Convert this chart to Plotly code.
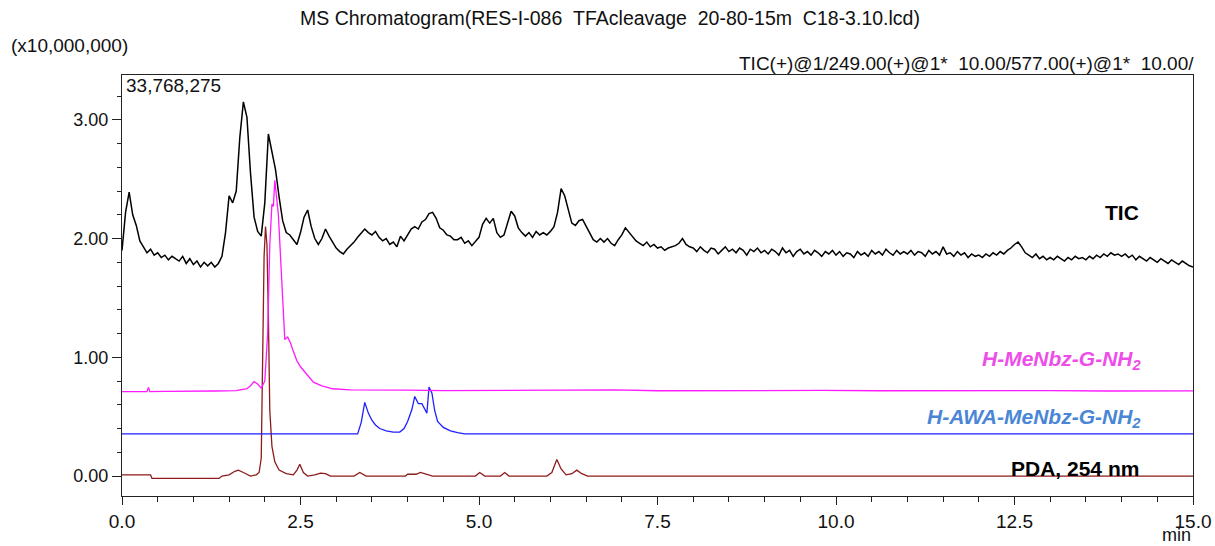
import plotly.graph_objects as go

# ---------------- data (retention time in min, intensity in units of 1e7) ----------------
tic_time = [round(i * 0.05, 2) for i in range(301)]
tic_values = [
    # 0.00 - 0.95
    1.90, 2.22, 2.39, 2.20, 2.11, 1.98, 1.93, 1.88, 1.91, 1.86, 1.88, 1.84, 1.86, 1.82, 1.85, 1.83, 1.81, 1.85, 1.79, 1.83,
    # 1.00 - 1.95
    1.78, 1.81, 1.76, 1.80, 1.77, 1.80, 1.76, 1.79, 1.85, 2.05, 2.36, 2.30, 2.40, 2.85, 3.15, 3.02, 2.55, 2.18, 2.06, 2.02,
    # 2.00 - 2.95
    2.30, 2.88, 2.72, 2.58, 2.35, 2.15, 2.05, 2.03, 1.99, 1.95, 2.05, 2.18, 2.24, 2.10, 2.00, 1.95, 2.00, 2.08, 2.02, 1.97,
    # 3.00 - 3.95
    1.92, 1.89, 1.87, 1.91, 1.94, 1.97, 2.01, 2.05, 2.08, 2.05, 2.03, 2.06, 2.01, 1.98, 2.00, 1.95, 1.97, 1.93, 2.02, 1.98,
    # 4.00 - 4.95
    2.03, 2.08, 2.10, 2.08, 2.14, 2.16, 2.21, 2.22, 2.17, 2.09, 2.07, 2.03, 2.02, 1.99, 1.99, 2.01, 1.96, 1.98, 1.94, 1.98,
    # 5.00 - 5.95
    2.01, 2.12, 2.17, 2.13, 2.17, 2.05, 2.01, 2.03, 2.14, 2.23, 2.19, 2.09, 2.05, 2.02, 2.05, 2.01, 2.06, 2.03, 2.05, 2.03,
    # 6.00 - 6.95
    2.06, 2.10, 2.22, 2.42, 2.36, 2.25, 2.13, 2.11, 2.15, 2.16, 2.10, 2.05, 1.99, 1.97, 2.00, 1.97, 2.00, 1.96, 1.94, 1.99,
    # 7.00 - 7.95
    2.03, 2.09, 2.05, 2.01, 1.98, 1.96, 1.94, 1.97, 1.93, 1.95, 1.92, 1.93, 1.90, 1.92, 1.93, 1.94, 1.96, 2.00, 1.95, 1.93,
    # 8.00 - 8.95
    1.92, 1.89, 1.93, 1.90, 1.88, 1.92, 1.91, 1.87, 1.90, 1.93, 1.89, 1.91, 1.88, 1.92, 1.90, 1.86, 1.91, 1.89, 1.92, 1.88,
    # 9.00 - 9.95
    1.90, 1.87, 1.91, 1.89, 1.86, 1.92, 1.88, 1.90, 1.85, 1.89, 1.91, 1.87, 1.89, 1.86, 1.90, 1.88, 1.85, 1.89, 1.87, 1.90,
    # 10.00 - 10.95
    1.86, 1.89, 1.85, 1.88, 1.87, 1.84, 1.89, 1.86, 1.88, 1.85, 1.90, 1.87, 1.89, 1.86, 1.91, 1.88, 1.86, 1.90, 1.87, 1.89,
    # 11.00 - 11.95
    1.87, 1.90, 1.86, 1.89, 1.88, 1.85, 1.90, 1.87, 1.89, 1.86, 1.93, 1.87, 1.88, 1.85, 1.89, 1.86, 1.88, 1.84, 1.87, 1.85,
    # 12.00 - 12.95
    1.86, 1.84, 1.87, 1.85, 1.88, 1.86, 1.89, 1.87, 1.90, 1.92, 1.95, 1.97, 1.93, 1.88, 1.86, 1.84, 1.87, 1.83, 1.85, 1.82,
    # 13.00 - 13.95
    1.84, 1.82, 1.85, 1.83, 1.81, 1.84, 1.82, 1.85, 1.83, 1.84, 1.82, 1.85, 1.83, 1.86, 1.84, 1.87, 1.85, 1.88, 1.86, 1.87,
    # 14.00 - 14.95
    1.85, 1.87, 1.84, 1.86, 1.82, 1.85, 1.83, 1.81, 1.84, 1.82, 1.80, 1.83, 1.81, 1.79, 1.82, 1.80, 1.78, 1.81, 1.79, 1.77,
    # 15.00
    1.76,
]

menbz_time = [0.00, 0.20, 0.35, 0.37, 0.39, 0.60, 1.00, 1.30, 1.60, 1.75, 1.80, 1.85, 1.90, 1.95, 2.00,
              2.04, 2.07, 2.10, 2.12, 2.14, 2.19, 2.24, 2.28, 2.32, 2.36, 2.40, 2.45, 2.50, 2.59, 2.68,
              2.80, 2.95, 3.20, 3.60, 4.00, 4.50, 5.00, 5.60, 6.20, 6.90, 7.50, 8.20, 9.00, 9.80,
              10.60, 11.40, 12.20, 13.00, 13.80, 14.50, 15.00]
menbz_values = [0.710, 0.712, 0.710, 0.745, 0.711, 0.713, 0.712, 0.716, 0.720, 0.735, 0.760, 0.795, 0.775, 0.740, 0.800,
                1.200, 1.950, 2.290, 2.270, 2.490, 2.200, 1.550, 1.150, 1.170, 1.120, 1.050, 0.970, 0.920, 0.850, 0.790,
                0.760, 0.735, 0.726, 0.722, 0.724, 0.720, 0.722, 0.719, 0.721, 0.725, 0.718, 0.720, 0.717, 0.721,
                0.718, 0.720, 0.717, 0.719, 0.716, 0.718, 0.717]

awa_time = [0.00, 3.30, 3.35, 3.40, 3.45, 3.50, 3.55, 3.61, 3.70, 3.80, 3.89, 3.95, 4.00, 4.06, 4.10,
            4.15, 4.20, 4.25, 4.27, 4.30, 4.34, 4.38, 4.42, 4.50, 4.60, 4.70, 4.80, 15.00]
awa_values = [0.355, 0.355, 0.450, 0.620, 0.530, 0.470, 0.430, 0.400, 0.380, 0.370, 0.370, 0.400, 0.460, 0.560, 0.670,
              0.610, 0.610, 0.550, 0.530, 0.750, 0.700, 0.550, 0.460, 0.410, 0.380, 0.365, 0.355, 0.355]

pda_time = [0.00, 0.40, 0.42, 1.36, 1.40, 1.50, 1.58, 1.63, 1.70, 1.80, 1.88, 1.92, 1.95, 1.97, 1.99,
            2.01, 2.03, 2.05, 2.07, 2.10, 2.14, 2.20, 2.30, 2.40, 2.45, 2.49, 2.54, 2.60, 2.70, 2.78,
            2.85, 2.92, 3.00, 3.25, 3.33, 3.42, 3.50, 3.97, 4.00, 4.12, 4.18, 4.25, 4.35, 4.95, 5.01,
            5.08, 5.30, 5.36, 5.42, 5.95, 6.02, 6.09, 6.15, 6.22, 6.30, 6.37, 6.44, 6.52, 15.00]
pda_values = [0.010, 0.010, -0.020, -0.020, 0.000, 0.010, 0.040, 0.050, 0.030, 0.000, 0.010, 0.030, 0.150, 0.900, 1.850,
              2.100, 1.950, 1.350, 0.550, 0.250, 0.120, 0.050, 0.020, 0.010, 0.050, 0.100, 0.030, 0.000, 0.010, 0.025,
              0.020, 0.000, 0.000, 0.000, 0.030, 0.000, 0.000, 0.000, 0.015, 0.015, 0.030, 0.020, 0.000, 0.000, 0.030,
              0.000, 0.000, 0.030, 0.000, 0.000, 0.030, 0.140, 0.060, 0.010, 0.020, 0.050, 0.020, 0.000, 0.000]

y_max = 3.3768275  # 33,768,275 counts
y_min = -0.168

FONT = "Liberation Sans, Arial, sans-serif"

fig = go.Figure()
fig.add_trace(go.Scatter(x=pda_time, y=pda_values, mode="lines",
                         line=dict(color="#8e1b1b", width=1.3), name="PDA, 254 nm"))
fig.add_trace(go.Scatter(x=awa_time, y=awa_values, mode="lines",
                         line=dict(color="#1f1fff", width=1.3), name="H-AWA-MeNbz-G-NH2"))
fig.add_trace(go.Scatter(x=menbz_time, y=menbz_values, mode="lines",
                         line=dict(color="#ff1aff", width=1.3), name="H-MeNbz-G-NH2"))
fig.add_trace(go.Scatter(x=tic_time, y=tic_values, mode="lines",
                         line=dict(color="#000000", width=1.5), name="TIC"))

# series labels next to their traces
series_labels = [
    ("<b>TIC</b>", 14.27, 2.22, "#000000"),
    ("<b><i>H-MeNbz-G-NH<sub>2</sub></i></b>", 14.30, 0.975, "#ee4ee8"),
    ("<b><i>H-AWA-MeNbz-G-NH<sub>2</sub></i></b>", 14.30, 0.49, "#4a86d6"),
    ("<b>PDA, 254 nm</b>", 14.27, 0.067, "#000000"),
]
for text, x, y, color in series_labels:
    fig.add_annotation(x=x, y=y, xref="x", yref="y", text=text, showarrow=False,
                       xanchor="right", yanchor="middle",
                       font=dict(family=FONT, size=21, color=color))

NB = "\u00a0"
header = [
    ("MS Chromatogram(RES-I-086" + NB * 2 + "TFAcleavage" + NB * 2 + "20-80-15m" + NB * 2 + "C18-3.10.lcd)",
     0.4557, 1.135, "center", "middle", 19.5),
    ("(x10,000,000)", -0.1046, 1.071, "left", "middle", 19),
    ("TIC(+)@1/249.00(+)@1*" + NB * 2 + "10.00/577.00(+)@1*" + NB * 2 + "10.00/", 1.002, 1.0285, "right", "middle", 19),
    ("33,768,275", 0.0028, 0.976, "left", "middle", 19),
    ("min", 0.985, -0.1188, "center", "bottom", 18),
]
for text, x, y, xanchor, yanchor, size in header:
    fig.add_annotation(x=x, y=y, xref="paper", yref="paper", text=text, showarrow=False,
                       xanchor=xanchor, yanchor=yanchor, borderpad=0,
                       font=dict(family=FONT, size=size, color="#111111"))

fig.update_layout(
    width=1215, height=546,
    margin=dict(l=122, r=22, t=75, b=50),
    paper_bgcolor="white", plot_bgcolor="white",
    showlegend=False,
    font=dict(family=FONT, color="#111111"),
)
fig.update_xaxes(
    range=[0, 15], tickvals=[0, 2.5, 5, 7.5, 10, 12.5, 15], tickformat=".1f",
    automargin=False,
    showgrid=False, zeroline=False,
    showline=True, linecolor="#222222", linewidth=1, mirror=True,
    ticks="outside", ticklen=8, tickcolor="#222222",
    tickfont=dict(family=FONT, size=19, color="#111111"),
    minor=dict(dtick=0.5, tick0=0, ticks="outside", ticklen=5, tickcolor="#222222", showgrid=False),
)
fig.update_yaxes(
    range=[y_min, y_max], tickvals=[0, 1, 2, 3], tickformat=".2f",
    automargin=False,
    showgrid=False, zeroline=False,
    showline=True, linecolor="#222222", linewidth=1, mirror=True,
    ticks="outside", ticklen=9, tickcolor="#222222",
    tickfont=dict(family=FONT, size=18, color="#111111"),
    minor=dict(dtick=0.2, tick0=0, ticks="outside", ticklen=4, tickcolor="#222222", showgrid=False),
)

fig.write_html("out.html")
